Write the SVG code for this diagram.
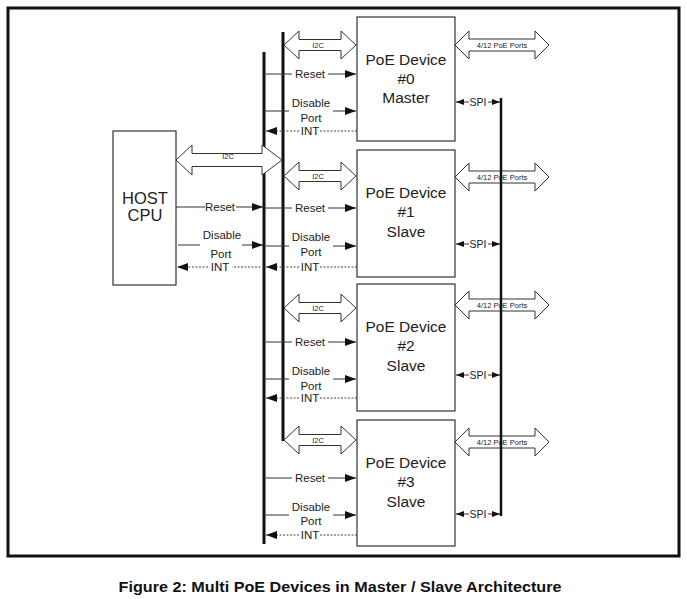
<svg xmlns="http://www.w3.org/2000/svg" width="687" height="599" viewBox="0 0 687 599">
<defs>
<marker id="ah" markerUnits="userSpaceOnUse" markerWidth="11" markerHeight="8" refX="11" refY="4" orient="auto"><path d="M0,0 L11,4 L0,8 z" fill="#111"/></marker>
<marker id="ahs" markerUnits="userSpaceOnUse" markerWidth="8" markerHeight="6" refX="8" refY="3" orient="auto"><path d="M0,0 L8,3 L0,6 z" fill="#111"/></marker>
<marker id="ahsr" markerUnits="userSpaceOnUse" markerWidth="8" markerHeight="6" refX="0" refY="3" orient="auto"><path d="M8,0 L0,3 L8,6 z" fill="#111"/></marker>
</defs>
<style>
text{font-family:"Liberation Sans",Arial,sans-serif;fill:#222;text-anchor:middle}
.box{fill:#fff;stroke:#333;stroke-width:1.2}
.bus{stroke:#111;stroke-width:3;fill:none}
.sig{stroke:#333;stroke-width:1;fill:none}
.int{stroke:#444;stroke-width:1;stroke-dasharray:2,1.5;fill:none}
.blk{fill:#fff;stroke:#333;stroke-width:1}
.lbl{font-size:11.5px}
.sm{font-size:7.5px}
.dev{font-size:15.5px}
.host{font-size:16.5px}
.cap{font-size:14.5px;font-weight:bold;fill:#111}
</style>
<rect x="8" y="8" width="671" height="548" fill="none" stroke="#111" stroke-width="3"/>

<g id="connectors">
<line class="bus" x1="264" y1="52" x2="264" y2="544"/>
<line class="bus" x1="283" y1="32" x2="283" y2="441"/>
<!-- host I2C -->
<polygon class="blk" points="176,160 192,145 192,153.5 262,153.5 262,145 282,160 262,175 262,166.5 192,166.5 192,175"/>
<text class="sm" x="228" y="159">I2C</text>
<!-- host signals -->
<line class="sig" x1="176" y1="207" x2="205" y2="207"/>
<text class="lbl" x="220" y="211">Reset</text>
<line class="sig" x1="236" y1="207" x2="263" y2="207" marker-end="url(#ah)"/>
<text class="lbl" x="222" y="239">Disable</text>
<text class="lbl" x="221" y="258">Port</text>
<line class="sig" x1="178" y1="245" x2="200" y2="245"/>
<line class="sig" x1="242" y1="245" x2="263" y2="245" marker-end="url(#ah)"/>
<line class="int" x1="264" y1="267" x2="232" y2="267"/>
<text class="lbl" x="220" y="271">INT</text>
<line class="int" x1="208" y1="267" x2="177" y2="267" marker-end="url(#ah)"/>

<!-- device 0 -->
<polygon class="blk" points="284,45 299,31 299,39.5 341,39.5 341,31 356,45 341,59 341,50.5 299,50.5 299,59"/>
<text class="sm" x="318" y="47.5">I2C</text>
<line class="sig" x1="264" y1="74" x2="292" y2="74"/>
<text class="lbl" x="310" y="78">Reset</text>
<line class="sig" x1="328" y1="74" x2="356" y2="74" marker-end="url(#ah)"/>
<text class="lbl" x="311" y="107">Disable</text>
<text class="lbl" x="311" y="122">Port</text>
<line class="sig" x1="264" y1="111" x2="289" y2="111"/>
<line class="sig" x1="333" y1="111" x2="356" y2="111" marker-end="url(#ah)"/>
<line class="int" x1="357" y1="131" x2="320" y2="131"/>
<text class="lbl" x="310" y="135">INT</text>
<line class="int" x1="299" y1="131" x2="266" y2="131" marker-end="url(#ah)"/>
<polygon class="blk" points="455,45 469,31 469,39 535,39 535,31 549,45 535,59 535,51 469,51 469,59"/>
<text class="sm" x="502" y="47.5">4/12 PoE Ports</text>
<line class="sig" x1="456" y1="102" x2="469" y2="102" marker-start="url(#ahsr)"/>
<text class="lbl" x="478" y="106" style="font-size:10.5px">SPI</text>
<line class="sig" x1="488" y1="102" x2="500" y2="102" marker-end="url(#ahs)"/>

<!-- device 1 -->
<polygon class="blk" points="284,176 299,162 299,170.5 341,170.5 341,162 356,176 341,190 341,181.5 299,181.5 299,190"/>
<text class="sm" x="318" y="178.5">I2C</text>
<line class="sig" x1="264" y1="208" x2="292" y2="208"/>
<text class="lbl" x="310" y="212">Reset</text>
<line class="sig" x1="328" y1="208" x2="356" y2="208" marker-end="url(#ah)"/>
<text class="lbl" x="311" y="241">Disable</text>
<text class="lbl" x="311" y="256">Port</text>
<line class="sig" x1="264" y1="246" x2="289" y2="246"/>
<line class="sig" x1="333" y1="246" x2="356" y2="246" marker-end="url(#ah)"/>
<line class="int" x1="357" y1="267" x2="320" y2="267"/>
<text class="lbl" x="310" y="271">INT</text>
<line class="int" x1="299" y1="267" x2="266" y2="267" marker-end="url(#ah)"/>
<polygon class="blk" points="455,177 469,163 469,171 535,171 535,163 549,177 535,191 535,183 469,183 469,191"/>
<text class="sm" x="502" y="179.5">4/12 PoE Ports</text>
<line class="sig" x1="456" y1="244" x2="469" y2="244" marker-start="url(#ahsr)"/>
<text class="lbl" x="478" y="248" style="font-size:10.5px">SPI</text>
<line class="sig" x1="488" y1="244" x2="500" y2="244" marker-end="url(#ahs)"/>

<!-- device 2 -->
<polygon class="blk" points="284,308 299,294 299,302.5 341,302.5 341,294 356,308 341,322 341,313.5 299,313.5 299,322"/>
<text class="sm" x="318" y="310.5">I2C</text>
<line class="sig" x1="264" y1="342" x2="292" y2="342"/>
<text class="lbl" x="310" y="346">Reset</text>
<line class="sig" x1="328" y1="342" x2="356" y2="342" marker-end="url(#ah)"/>
<text class="lbl" x="311" y="375">Disable</text>
<text class="lbl" x="311" y="390">Port</text>
<line class="sig" x1="264" y1="379" x2="289" y2="379"/>
<line class="sig" x1="333" y1="379" x2="356" y2="379" marker-end="url(#ah)"/>
<line class="int" x1="357" y1="398" x2="320" y2="398"/>
<text class="lbl" x="310" y="402">INT</text>
<line class="int" x1="299" y1="398" x2="266" y2="398" marker-end="url(#ah)"/>
<polygon class="blk" points="455,305 469,291 469,299 535,299 535,291 549,305 535,319 535,311 469,311 469,319"/>
<text class="sm" x="502" y="307.5">4/12 PoE Ports</text>
<line class="sig" x1="456" y1="375" x2="469" y2="375" marker-start="url(#ahsr)"/>
<text class="lbl" x="478" y="379" style="font-size:10.5px">SPI</text>
<line class="sig" x1="488" y1="375" x2="500" y2="375" marker-end="url(#ahs)"/>

<!-- device 3 -->
<polygon class="blk" points="284,440 299,426 299,434.5 341,434.5 341,426 356,440 341,454 341,445.5 299,445.5 299,454"/>
<text class="sm" x="318" y="442.5">I2C</text>
<line class="sig" x1="264" y1="478" x2="292" y2="478"/>
<text class="lbl" x="310" y="482">Reset</text>
<line class="sig" x1="328" y1="478" x2="356" y2="478" marker-end="url(#ah)"/>
<text class="lbl" x="311" y="511">Disable</text>
<text class="lbl" x="311" y="525">Port</text>
<line class="sig" x1="264" y1="515" x2="289" y2="515"/>
<line class="sig" x1="333" y1="515" x2="356" y2="515" marker-end="url(#ah)"/>
<line class="int" x1="357" y1="535" x2="320" y2="535"/>
<text class="lbl" x="310" y="539">INT</text>
<line class="int" x1="299" y1="535" x2="266" y2="535" marker-end="url(#ah)"/>
<polygon class="blk" points="455,442 469,428 469,436 535,436 535,428 549,442 535,456 535,448 469,448 469,456"/>
<text class="sm" x="502" y="444.5">4/12 PoE Ports</text>
<line class="sig" x1="456" y1="514" x2="469" y2="514" marker-start="url(#ahsr)"/>
<text class="lbl" x="478" y="518" style="font-size:10.5px">SPI</text>
<line class="sig" x1="488" y1="514" x2="500" y2="514" marker-end="url(#ahs)"/>

<line class="bus" x1="501" y1="98" x2="501" y2="516" style="stroke-width:2.5"/>
</g>

<g id="host">
<rect class="box" x="113" y="131" width="63" height="154"/>
<text class="host" x="145" y="204">HOST</text>
<text class="host" x="145" y="221">CPU</text>
</g>
<g id="dev0">
<rect class="box" x="357" y="17" width="98" height="124"/>
<text class="dev" x="406" y="65">PoE Device</text>
<text class="dev" x="406" y="84">#0</text>
<text class="dev" x="406" y="103">Master</text>
</g>
<g id="dev1">
<rect class="box" x="357" y="150" width="98" height="127"/>
<text class="dev" x="406" y="198">PoE Device</text>
<text class="dev" x="406" y="217">#1</text>
<text class="dev" x="406" y="237">Slave</text>
</g>
<g id="dev2">
<rect class="box" x="357" y="284" width="98" height="127"/>
<text class="dev" x="406" y="332">PoE Device</text>
<text class="dev" x="406" y="351">#2</text>
<text class="dev" x="406" y="371">Slave</text>
</g>
<g id="dev3">
<rect class="box" x="357" y="420" width="98" height="126"/>
<text class="dev" x="406" y="468">PoE Device</text>
<text class="dev" x="406" y="487">#3</text>
<text class="dev" x="406" y="507">Slave</text>
</g>
<text class="cap" x="340" y="592" textLength="443" lengthAdjust="spacingAndGlyphs">Figure 2: Multi PoE Devices in Master / Slave Architecture</text>
</svg>
